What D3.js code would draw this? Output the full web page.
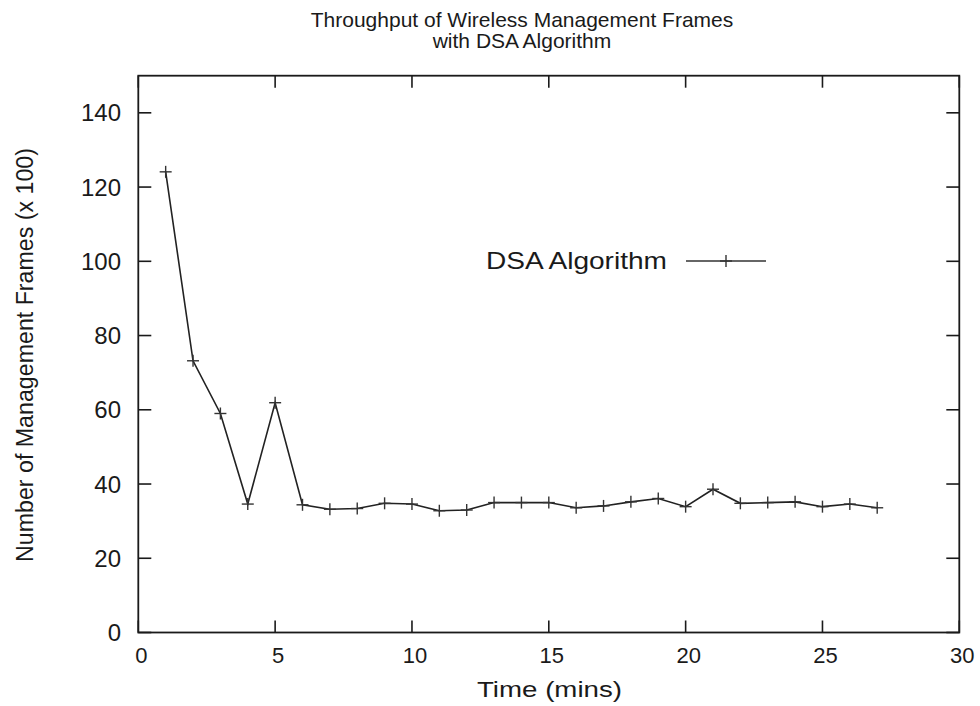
<!DOCTYPE html>
<html>
<head>
<meta charset="utf-8">
<script src="https://cdn.jsdelivr.net/npm/d3@7"></script>
<style>
  html, body { margin: 0; padding: 0; background: #fff; }
  svg { display: block; font-family: "Liberation Sans", Arial, Helvetica, sans-serif; }
</style>
</head>
<body>
<svg id="chart" width="980" height="706"></svg>
<script>
// ---- data ----
const times = [1,2,3,4,5,6,7,8,9,10,11,12,13,14,15,16,17,18,19,20,21,22,23,24,25,26,27];
const frames = [124.1,73.2,59.0,34.6,61.9,34.4,33.2,33.4,34.8,34.6,32.8,33.0,35.0,35.0,35.0,33.6,34.1,35.2,36.1,33.9,38.6,34.8,35.0,35.2,33.9,34.6,33.6];
const xTicks = [0,5,10,15,20,25,30];
const yTicks = [0,20,40,60,80,100,120,140];
const seriesName = "DSA Algorithm";
const titleLines = ["Throughput of Wireless Management Frames", "with DSA Algorithm"];
const xLabel = "Time (mins)";
const yLabel = "Number of Management Frames (x 100)";

(function () {
const svg = d3.select("#chart");
const pLeft = 138.3, pRight = 959.3, pTop = 75.7, pBottom = 632.5;

const x = d3.scaleLinear().domain([0,30]).range([pLeft, pRight]);
const y = d3.scaleLinear().domain([0,150]).range([pBottom, pTop]);

const ink = "#1a1a1a";

// ticks (inward, mirrored)
const tickLenX = 12, tickLenY = 13;
const g = svg.append("g");
xTicks.forEach(t => {
  g.append("line").attr("x1", x(t)).attr("x2", x(t)).attr("y1", pBottom).attr("y2", pBottom - tickLenX)
    .attr("stroke", ink).attr("stroke-width", 1.6);
  g.append("line").attr("x1", x(t)).attr("x2", x(t)).attr("y1", pTop).attr("y2", pTop + tickLenX)
    .attr("stroke", ink).attr("stroke-width", 1.6);
  g.append("text").attr("x", x(t) + 3).attr("y", 663).attr("text-anchor", "middle")
    .attr("font-size", 22).attr("fill", ink).text(t);
});
yTicks.forEach(t => {
  g.append("line").attr("x1", pLeft).attr("x2", pLeft + tickLenY).attr("y1", y(t)).attr("y2", y(t))
    .attr("stroke", ink).attr("stroke-width", 1.6);
  g.append("line").attr("x1", pRight).attr("x2", pRight - tickLenY).attr("y1", y(t)).attr("y2", y(t))
    .attr("stroke", ink).attr("stroke-width", 1.6);
  g.append("text").attr("x", 121).attr("y", y(t) + 8.5).attr("text-anchor", "end")
    .attr("font-size", 24).attr("fill", ink).text(t);
});

// frame
svg.append("rect").attr("x", pLeft).attr("y", pTop).attr("width", pRight - pLeft).attr("height", pBottom - pTop)
  .attr("fill", "none").attr("stroke", ink).attr("stroke-width", 1.8);

// series line
const data = times.map((t, i) => ({t, v: frames[i]}));
const line = d3.line().x(d => x(d.t)).y(d => y(d.v));
svg.append("path").datum(data).attr("d", line).attr("fill", "none")
  .attr("stroke", "#222").attr("stroke-width", 1.6);

// plus markers
const ms = 6;
const pts = svg.append("g").attr("stroke", "#333").attr("stroke-width", 1.4);
data.forEach(d => {
  pts.append("line").attr("x1", x(d.t) - ms).attr("x2", x(d.t) + ms).attr("y1", y(d.v)).attr("y2", y(d.v));
  pts.append("line").attr("x1", x(d.t)).attr("x2", x(d.t)).attr("y1", y(d.v) - ms).attr("y2", y(d.v) + ms);
});

// legend
svg.append("text").attr("x", 667).attr("y", 269).attr("text-anchor", "end")
  .attr("font-size", 24).attr("textLength", 181).attr("lengthAdjust", "spacingAndGlyphs")
  .attr("fill", ink).text(seriesName);
svg.append("line").attr("x1", 686).attr("x2", 766).attr("y1", 261).attr("y2", 261)
  .attr("stroke", "#333").attr("stroke-width", 1.6);
svg.append("line").attr("x1", 726 - ms).attr("x2", 726 + ms).attr("y1", 261).attr("y2", 261)
  .attr("stroke", "#333").attr("stroke-width", 1.4);
svg.append("line").attr("x1", 726).attr("x2", 726).attr("y1", 261 - ms).attr("y2", 261 + ms)
  .attr("stroke", "#333").attr("stroke-width", 1.4);

// title
svg.append("text").attr("x", 522).attr("y", 27).attr("text-anchor", "middle")
  .attr("font-size", 21).attr("fill", ink).text(titleLines[0]);
svg.append("text").attr("x", 522).attr("y", 48).attr("text-anchor", "middle")
  .attr("font-size", 21).attr("fill", ink).text(titleLines[1]);

// axis titles
svg.append("text").attr("x", 549.5).attr("y", 697).attr("text-anchor", "middle")
  .attr("font-size", 22).attr("textLength", 145).attr("lengthAdjust", "spacingAndGlyphs")
  .attr("fill", ink).text(xLabel);
svg.append("text").attr("transform", "translate(33,355) rotate(-90)").attr("text-anchor", "middle")
  .attr("font-size", 23).attr("textLength", 414).attr("lengthAdjust", "spacingAndGlyphs")
  .attr("fill", ink).text(yLabel);
})();
</script>
</body>
</html>
